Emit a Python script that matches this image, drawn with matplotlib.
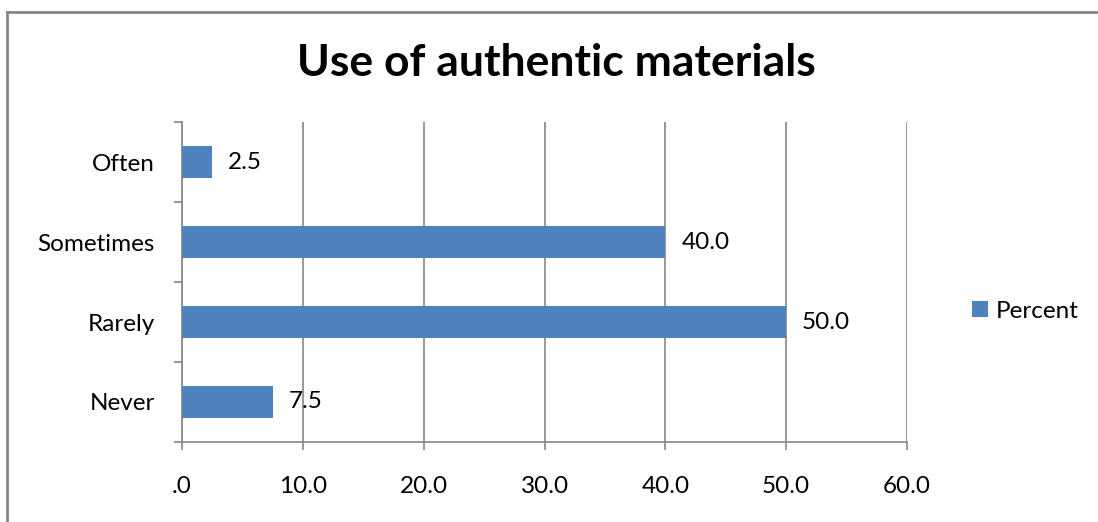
import matplotlib
matplotlib.use("Agg")
import matplotlib.pyplot as plt
from matplotlib.lines import Line2D
from matplotlib.ticker import FixedLocator

categories = ["Never", "Rarely", "Sometimes", "Often"]
values = [7.5, 50.0, 40.0, 2.5]
x_ticks = [0, 10, 20, 30, 40, 50, 60]
x_tick_labels = [".0", "10.0", "20.0", "30.0", "40.0", "50.0", "60.0"]
title = "Use of authentic materials"
series_name = "Percent"

plt.rcParams['font.family'] = ['Lato', 'DejaVu Sans']
bar_color = "#4F81BD"
grid_color = "#868686"
fs = 17.5

fig = plt.figure(figsize=(10.98, 5.22), dpi=100)
ax = fig.add_axes([182/1098, 1-442/522, (907-182)/1098, (442-122)/522])

ypos = list(range(len(categories)))
bars = ax.barh(ypos, values, height=0.39, color=bar_color, label=series_name, zorder=3)

ax.set_xlim(0, 60)
ax.set_ylim(-0.5, len(categories)-0.5)
ax.set_xticks(x_ticks)
ax.set_xticklabels(x_tick_labels, fontsize=fs)
ax.set_yticks(ypos)
ax.set_yticklabels(categories, fontsize=fs)
ax.tick_params(axis='y', length=0, pad=19.5)
ax.yaxis.set_minor_locator(FixedLocator([i - 0.5 for i in range(len(categories)+1)]))
ax.tick_params(axis='y', which='minor', length=5.8, color=grid_color, width=1.2, direction='out')
ax.tick_params(axis='x', length=5.8, color=grid_color, width=1.2, pad=18.5)

ax.grid(axis='x', color=grid_color, linewidth=1.2, zorder=0)
for s in ['top', 'right']:
    ax.spines[s].set_visible(False)
for s in ['left', 'bottom']:
    ax.spines[s].set_color(grid_color)
    ax.spines[s].set_linewidth(1.2)

for b, v in zip(bars, values):
    ax.annotate(f"{v:.1f}", xy=(b.get_width(), b.get_y() + b.get_height()/2),
                xytext=(11.5, 0), textcoords='offset points', va='center', ha='left',
                fontsize=fs, zorder=4)

fig.text(556/1098, 1-63/522, title, ha='center', va='center', fontsize=32, fontweight='bold')

leg = ax.legend(loc='center left', bbox_to_anchor=(950/1098, 1-311/522), bbox_transform=fig.transFigure,
                frameon=False, fontsize=fs, handlelength=0.65, handleheight=0.65, handletextpad=0.35)

fig.add_artist(Line2D([6.5/1098, 6.5/1098], [0, 1-11.5/522], transform=fig.transFigure,
                      color=grid_color, linewidth=2))
fig.add_artist(Line2D([6.5/1098, 1], [1-11.5/522, 1-11.5/522], transform=fig.transFigure,
                      color=grid_color, linewidth=2))

fig.savefig("out.png", dpi=100)
